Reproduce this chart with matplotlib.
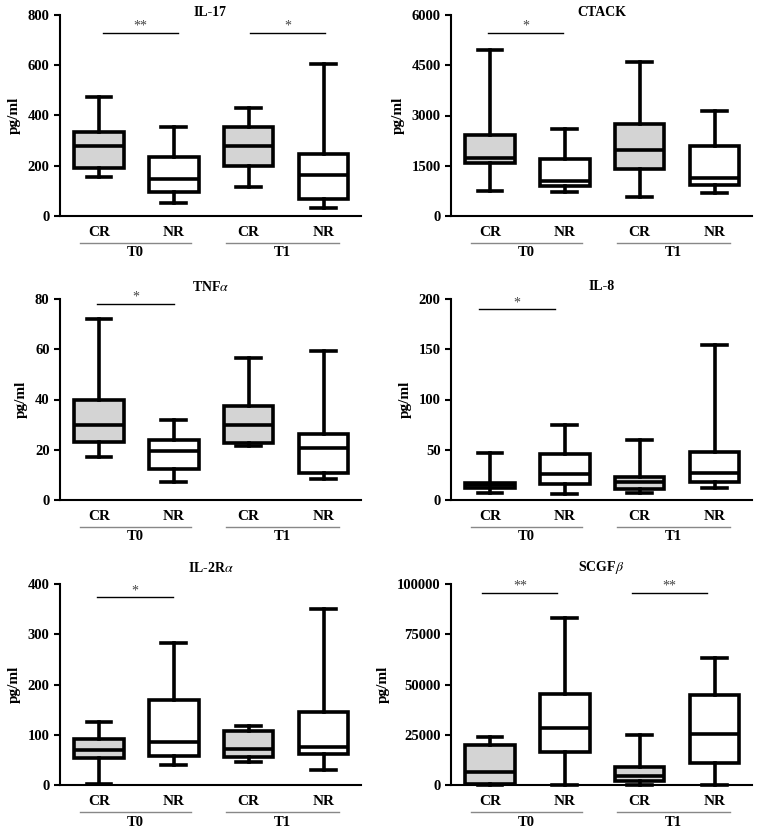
import matplotlib
matplotlib.use('Agg')
from matplotlib import pyplot as plt
import matplotlib.transforms as mtransforms

plt.rcParams['font.family'] = ['Liberation Serif', 'DejaVu Serif']
plt.rcParams['mathtext.fontset'] = 'stix'

# box order: T0-CR, T0-NR, T1-CR, T1-NR ; each (min, q1, median, q3, max)
groups = ['CR', 'NR', 'CR', 'NR']
times = ['T0', 'T1']

il17 = [(156, 192, 280, 336, 475), (50, 94, 147, 236, 354),
        (117, 199, 280, 355, 428), (30, 66, 163, 245, 605)]
ctack = [(746, 1580, 1740, 2418, 4955), (726, 896, 1045, 1711, 2587),
         (557, 1393, 1970, 2736, 4597), (677, 915, 1144, 2090, 3124)]
tnfa = [(17.2, 22.9, 30, 39.8, 72), (7, 12.5, 19.5, 24, 31.7),
        (21.6, 22.5, 30, 37.5, 56.5), (8.4, 10.6, 20.6, 26.1, 59.2)]
il8 = [(6.6, 12.3, 14.5, 17, 46.5), (6.3, 15.6, 25.6, 45.5, 74.4),
       (7.3, 11, 18.3, 22.6, 59.5), (11.6, 17.9, 26.6, 48.2, 154.5)]
il2ra = [(1, 54, 70, 91, 125), (39, 57, 86, 169, 282),
         (45, 56, 71, 108, 117), (29, 61, 75, 145, 350)]
scgfb = [(0, 500, 6310, 19930, 23750), (0, 16280, 28240, 45180, 83060),
         (0, 2160, 4490, 9140, 24920), (0, 10800, 25250, 44850, 63120)]

titles = ['IL-17', 'CTACK', r'TNF$\alpha$', 'IL-8', r'IL-2R$\alpha$', r'SCGF$\beta$']
data = [il17, ctack, tnfa, il8, il2ra, scgfb]
yticks = [range(0, 801, 200), range(0, 6001, 1500), range(0, 81, 20),
          range(0, 201, 50), range(0, 401, 100), range(0, 100001, 25000)]

# significance bars: (x1, x2, y, label)
signif = [[(1.05, 2.05, 730, '**'), (3.02, 4.02, 730, '*')],
          [(0.97, 1.98, 5470, '*')],
          [(0.98, 2.0, 78, '*')],
          [(0.85, 1.87, 190, '*')],
          [(0.97, 1.99, 374, '*')],
          [(0.9, 1.9, 95500, '**'), (2.9, 3.9, 95500, '**')]]

W, H = 763, 833
fig = plt.figure(figsize=(W / 100, H / 100), dpi=100)
lefts = [60, 451]
tops = [15, 299, 584]
title_off = [3, 12, 16]
aw, ah = 301, 201

for k in range(6):
    r, c = divmod(k, 2)
    ax = fig.add_axes([lefts[c] / W, 1 - (tops[r] + ah) / H, aw / W, ah / H])
    stats = []
    for (mn, q1, med, q3, mx) in data[k]:
        stats.append(dict(whislo=mn, q1=q1, med=med, q3=q3, whishi=mx, fliers=[]))
    bp = ax.bxp(stats, positions=[1, 2, 3, 4], widths=0.66, patch_artist=True,
                showfliers=False,
                boxprops=dict(linewidth=2.6, edgecolor='black'),
                whiskerprops=dict(linewidth=2.6, color='black'),
                capprops=dict(linewidth=2.6, color='black'),
                medianprops=dict(linewidth=2.6, color='black'))
    for i, patch in enumerate(bp['boxes']):
        patch.set_facecolor('#d4d4d4' if groups[i] == 'CR' else 'white')
    for art in bp['caps'] + bp['whiskers']:
        art.set_clip_on(False)

    yt = list(yticks[k])
    ax.set_ylim(0, yt[-1])
    ax.set_yticks(yt)
    ax.set_xlim(0.48, 4.5)
    ax.set_xticks([1, 2, 3, 4])
    ax.set_xticklabels(groups, fontsize=11, fontweight='bold')
    ax.tick_params(axis='x', length=0, pad=7)
    ax.tick_params(axis='y', length=4, width=1.5, labelsize=10.5)
    for lab in ax.get_yticklabels():
        lab.set_fontweight('bold')
    ax.spines['top'].set_visible(False)
    ax.spines['right'].set_visible(False)
    ax.spines['left'].set_linewidth(1.5)
    ax.spines['bottom'].set_linewidth(1.5)
    ax.set_ylabel('pg/ml', fontsize=11, fontweight='bold', labelpad=5)

    ax.text(0.5, 1 + title_off[r] / ah, titles[k], transform=ax.transAxes,
            ha='center', va='center', fontsize=10, fontweight='bold')

    trans = mtransforms.blended_transform_factory(ax.transData, ax.transAxes)
    for j, (x1, x2) in enumerate([(0.75, 2.23), (2.7, 4.2)]):
        ax.plot([x1, x2], [-27 / ah, -27 / ah], color='#888888', lw=1.0,
                transform=trans, clip_on=False)
        ax.text((x1 + x2) / 2, -37 / ah, times[j], transform=trans,
                ha='center', va='center', fontsize=10.5, fontweight='bold')

    for (x1, x2, y, s) in signif[k]:
        ax.plot([x1, x2], [y, y], color='black', lw=1.0, clip_on=False)
        ax.text((x1 + x2) / 2, y, s, ha='center', va='bottom', fontsize=10,
                color='#444444')

fig.savefig('out.png', dpi=100)
